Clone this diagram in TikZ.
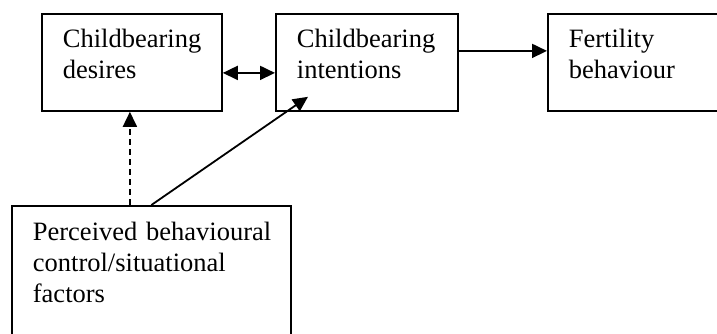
\documentclass[tikz,border=0pt]{standalone}
\usepackage{fontspec}
\setmainfont{Liberation Serif}
\usepackage{tikz}
\usetikzlibrary{calc}
\usetikzlibrary{arrows.meta}

\begin{document}
\begin{tikzpicture} [x=1pt, y=-1pt,
  box/.style={draw, line width=1.8pt, anchor=north west, align=left, inner xsep=21pt, inner ysep=0pt,
    font=\fontsize{26.5}{31}\selectfont, text height=34pt},
  arr/.style={line width=1.8pt, -{Triangle[length=15pt, width=14pt]}}]
\useasboundingbox (0,0) rectangle (717,333);
\clip (0,0) rectangle (717,333);

\node[box, text width=138pt, text depth=63pt] (desires) at (41,13) {\mbox{Childbearing}\\desires};
\node[box, text width=140pt, text depth=63pt] (intent) at (275,13) {\mbox{Childbearing}\\intentions};
\node[box, text width=158pt, text depth=63pt] (fert) at (547,13) {Fertility\\behaviour};
\node[box, text width=237pt, text depth=105pt, text height=35pt] (pbc) at (11,205) {\mbox{Perceived behavioural}\\\mbox{control/situational}\\factors};

\coordinate (itip) at ($(intent.south west)+(33,-15)$);

\draw[arr, {Triangle[length=15pt, width=14pt]}-{Triangle[length=15pt, width=14pt]}] ([yshift=-10.5pt]desires.east) -- ([yshift=-10.5pt]intent.west);
\draw[arr] ([yshift=11.5pt]intent.east) -- ([yshift=11.5pt]fert.west);
\draw[arr, dash pattern=on 6pt off 4pt] ([xshift=-2pt]pbc.north -| desires.south) -- ([xshift=-2pt]desires.south);
\draw[arr] (pbc.north) -- (itip);

\end{tikzpicture}
\end{document}
